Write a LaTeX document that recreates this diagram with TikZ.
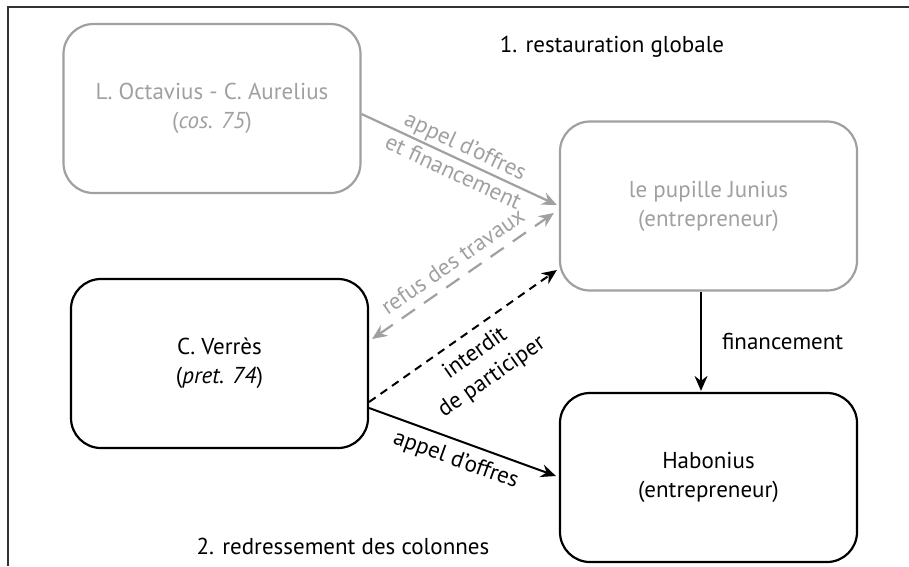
\documentclass[tikz,border=0pt]{standalone}
\usepackage{fontspec}
\setmainfont{PT Sans}
\usetikzlibrary{arrows.meta,calc}
\definecolor{lg}{RGB}{160,160,160}
\definecolor{frm}{RGB}{50,50,50}
\begin{document}
\begin{tikzpicture}[x=1pt,y=-1pt,
  font=\fontsize{23}{29}\selectfont,
  boxbase/.style={line width=2.2pt, rounded corners=30pt, align=center, inner sep=0pt,
    minimum width=297pt, minimum height=169pt},
  gbox/.style={boxbase, draw=lg, text=lg},
  bbox/.style={boxbase, draw=black, text=black},
  tip/.style={-{Stealth[length=15pt,width=13pt,inset=5pt]}},
  garrow/.style={tip, draw=lg, line width=2.2pt},
  barrow/.style={tip, draw=black, line width=2pt},
  glabel/.style={text=lg, sloped, align=center, inner sep=1pt},
  blabel/.style={text=black, sloped, align=center, inner sep=1pt},
  plain/.style={inner sep=0pt, align=center}
]
\useasboundingbox (0,0) rectangle (909,566);
\draw[frm, line width=1.4pt] (8,566) -- (8,7) -- (909,7);

\node[gbox] (oct) at (212,108.5) {L. Octavius - C. Aurelius\\(\textit{cos. 75})};
\node[gbox] (jun) at (708.5,206) {le pupille Junius\\(entrepreneur)};
\node[bbox] (ver) at (219.5,363.5) {C. Verrès\\(\textit{pret. 74})};
\node[bbox] (hab) at (708.5,477.5) {Habonius\\(entrepreneur)};

\node[plain] (t1) at (612,47) {1. restauration globale};
\node[plain] (t2) at (343,546) {2. redressement des colonnes};

\draw[garrow] ($(oct.east)+(0,5.5)$) -- ($(jun.west)+(-2,-1)$)
  node[glabel, midway, yshift=1pt] {appel d’offres\\et financement};

\draw[garrow, {Stealth[length=15pt,width=13pt,inset=5pt]}-{Stealth[length=15pt,width=13pt,inset=5pt]}, dash pattern=on 16pt off 11pt]
  ($(ver.east)+(3,-24.5)$) -- ($(jun.west)+(-5,7)$)
  node[glabel, midway, above=8pt] {refus des travaux};

\draw[barrow, dash pattern=on 8pt off 6pt] ($(ver.east)+(0,38.5)$) -- ($(jun.west)+(-2,64)$)
  node[blabel, midway, below=9pt] {interdit\\de participer};

\draw[barrow] ($(ver.east)+(0,44.5)$) -- ($(hab.west)+(-3,-1.5)$)
  node[blabel, midway, below=7pt] {appel d’offres};

\draw[barrow] ($(jun.south)+(-7.5,0)$) -- ($(hab.north)+(-7.5,-1)$)
  node[plain, right=20pt, pos=0.5] (fin) {financement};
\end{tikzpicture}
\end{document}
